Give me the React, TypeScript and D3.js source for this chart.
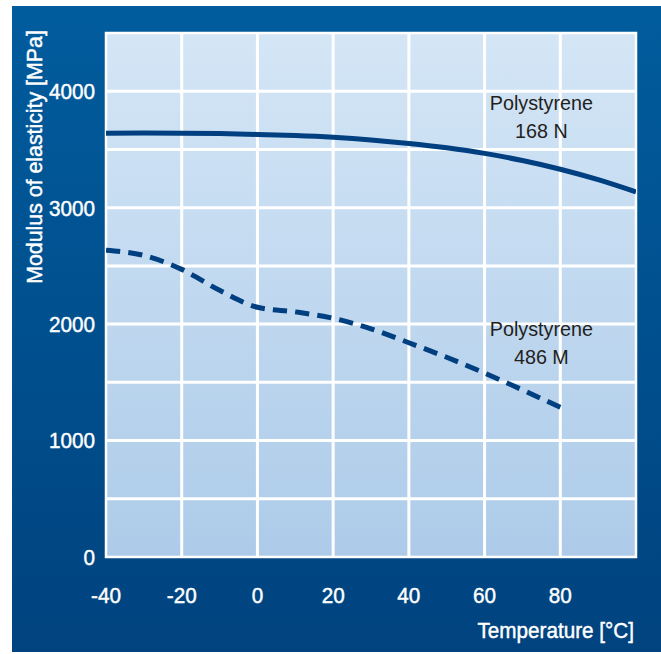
import React from 'react';
import * as d3 from 'd3';

// Temperature [°C] vs modulus of elasticity [MPa]
const temps168N = [-40, -30, -20, -10, 0, 10, 20, 30, 40, 50, 60, 70, 80, 90, 100];
const modulus168N = [3639, 3641, 3640, 3636, 3629, 3619, 3604, 3582, 3552, 3514, 3466, 3405, 3330, 3240, 3135];

const temps486M = [-40, -30, -20, -10, 0, 10, 20, 30, 40, 50, 60, 70, 80];
const modulus486M = [2635, 2590, 2470, 2290, 2145, 2105, 2050, 1960, 1840, 1715, 1580, 1435, 1285];

const xTicks = [-40, -20, 0, 20, 40, 60, 80];
const yTicks = [0, 1000, 2000, 3000, 4000];
const xGrid = [-20, 0, 20, 40, 60, 80];
const yGrid = [500, 1000, 1500, 2000, 2500, 3000, 3500, 4000];

const labels = [
    { lines: ['Polystyrene', '168 N'], x: 75, y: 3840 },
    { lines: ['Polystyrene', '486 M'], x: 75, y: 1900 },
];

const W = 661;
const H = 654;
const font = '"Liberation Sans", Arial, sans-serif';
const SX = 0.94; // condensed look

const App: React.FC = () => {
    const plot = { left: 106, right: 636, top: 33, bottom: 557 };

    const xScale = d3.scaleLinear().domain([-40, 100]).range([plot.left, plot.right]);
    const yScale = d3.scaleLinear().domain([0, 4500]).range([plot.bottom, plot.top]);

    const line = d3.line<[number, number]>()
        .x(d => xScale(d[0]))
        .y(d => yScale(d[1]))
        .curve(d3.curveMonotoneX);

    const solid = line(temps168N.map((t, i) => [t, modulus168N[i]]) as [number, number][]) || '';
    const dashed = line(temps486M.map((t, i) => [t, modulus486M[i]]) as [number, number][]) || '';

    const whiteText = {
        fontFamily: font,
        fontSize: 22,
        fill: '#fff',
        stroke: '#fff',
        strokeWidth: 0.45,
    };

    return (
        <div style={{ position: 'absolute', left: 0, top: 0, width: W, height: H, background: '#fff' }}>
            <svg width={W} height={H} viewBox={`0 0 ${W} ${H}`} style={{ display: 'block' }}>
                <defs>
                    <linearGradient id="outerBg" x1="0" y1="0" x2="0" y2="1">
                        <stop offset="0%" stopColor="#015c9d" />
                        <stop offset="100%" stopColor="#00437f" />
                    </linearGradient>
                    <linearGradient id="plotBg" x1="0" y1="0" x2="0" y2="1">
                        <stop offset="0%" stopColor="#d4e6f6" />
                        <stop offset="100%" stopColor="#adcbe9" />
                    </linearGradient>
                    <clipPath id="plotClip">
                        <rect x={plot.left} y={plot.top} width={plot.right - plot.left} height={plot.bottom - plot.top} />
                    </clipPath>
                </defs>

                <rect x={12} y={6} width={W - 12} height={646} fill="url(#outerBg)" />

                <rect
                    x={plot.left}
                    y={plot.top}
                    width={plot.right - plot.left}
                    height={plot.bottom - plot.top}
                    fill="url(#plotBg)"
                />

                {/* grid */}
                {xGrid.map(t => (
                    <line key={`gx${t}`} x1={xScale(t)} x2={xScale(t)} y1={plot.top} y2={plot.bottom}
                        stroke="#fff" strokeWidth={3} />
                ))}
                {yGrid.map(v => (
                    <line key={`gy${v}`} x1={plot.left} x2={plot.right} y1={yScale(v)} y2={yScale(v)}
                        stroke="#fff" strokeWidth={3} />
                ))}
                <rect
                    x={plot.left}
                    y={plot.top}
                    width={plot.right - plot.left}
                    height={plot.bottom - plot.top}
                    fill="none"
                    stroke="#fff"
                    strokeWidth={2.5}
                />

                {/* curves */}
                <g clipPath="url(#plotClip)">
                    <path d={solid} fill="none" stroke="#003f80" strokeWidth={5} />
                    {/* pathLength chosen so the dash pattern ends on a full dash */}
                    <path d={dashed} fill="none" stroke="#003f80" strokeWidth={5}
                        pathLength={476} strokeDasharray="14 8" />
                </g>

                {/* curve labels */}
                {labels.map((lb, i) => (
                    <g key={i} transform={`translate(${xScale(lb.x)},${yScale(lb.y)}) scale(${SX},1)`}>
                        <text textAnchor="middle" fontFamily={font} fontSize={21} fill="#231f20">
                            {lb.lines.map((s, j) => (
                                <tspan key={j} x={0} dy={j === 0 ? 0 : 28}>{s}</tspan>
                            ))}
                        </text>
                    </g>
                ))}

                {/* y tick labels */}
                {yTicks.map(v => (
                    <text key={`yt${v}`} transform={`translate(95,${yScale(v)}) scale(${SX},1)`}
                        dy="0.36em" textAnchor="end" {...whiteText}>
                        {v}
                    </text>
                ))}

                {/* x tick labels */}
                {xTicks.map(t => (
                    <text key={`xt${t}`} transform={`translate(${xScale(t)},603) scale(${SX},1)`}
                        textAnchor="middle" {...whiteText}>
                        {t}
                    </text>
                ))}

                <text transform={`translate(634,638) scale(${SX},1)`} textAnchor="end" {...whiteText}>
                    Temperature [°C]
                </text>

                <text transform={`translate(42,157) rotate(-90) scale(0.97,1)`} textAnchor="middle" {...whiteText}>
                    Modulus of elasticity [MPa]
                </text>
            </svg>
        </div>
    );
};

export default App;
